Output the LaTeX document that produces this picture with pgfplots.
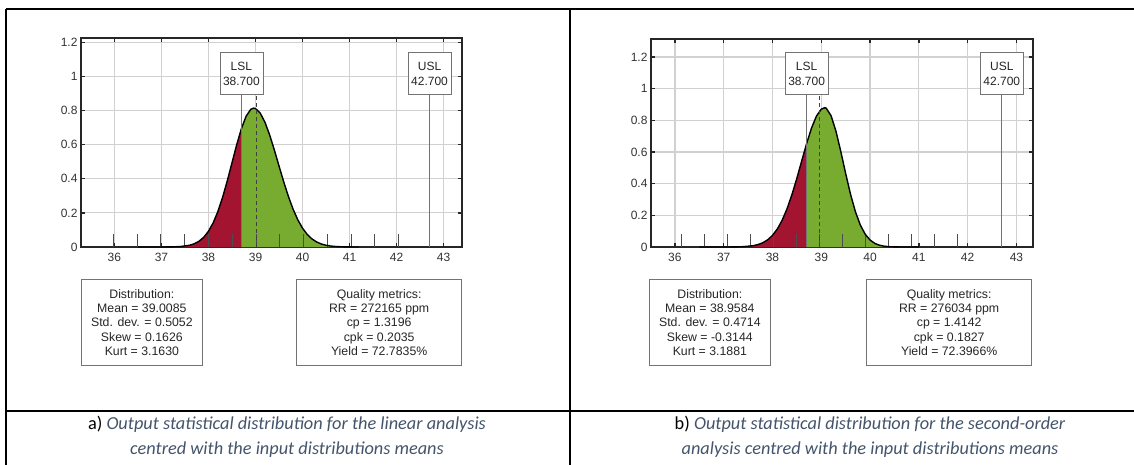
\documentclass[border=0pt]{standalone}
\usepackage{pgfplots}
\pgfplotsset{compat=1.18}
\usepackage{pgfplotstable}
\usepackage{fontspec}
\setmainfont{Liberation Sans}
\newfontfamily\capfont{Carlito}
\definecolor{mred}{RGB}{162,20,47}
\definecolor{mgreen}{RGB}{119,172,48}
\definecolor{axcol}{RGB}{38,38,38}
\definecolor{capblue}{RGB}{68,84,106}

\pgfplotstableread{
x y
36.5 0
37.0 0.0001
37.2 0.0005
37.4 0.0026
37.6 0.0103
37.7 0.0191
37.8 0.0339
37.9 0.0572
38.0 0.0922
38.1 0.1417
38.2 0.2079
38.3 0.2908
38.4 0.3880
38.5 0.4937
38.6 0.5993
38.7 0.6938
}\redA
\pgfplotstableread{
x y
38.7 0.6938
38.8 0.7662
38.9 0.8071
38.96 0.8140
39.0 0.8116
39.1 0.7850
39.2 0.7318
39.3 0.6574
39.4 0.5690
39.5 0.4747
39.6 0.3817
39.7 0.2957
39.8 0.2208
39.9 0.1589
40.0 0.1102
40.1 0.0736
40.2 0.0474
40.3 0.0294
40.4 0.0176
40.5 0.0101
40.6 0.0056
40.7 0.0030
40.8 0.0016
41.0 0.0004
41.2 0
}\greenA
\pgfplotstableread{
x y
36.5 0
37.0 0.0001
37.2 0.0004
37.4 0.0021
37.6 0.0081
37.7 0.0150
37.8 0.0266
37.9 0.0451
38.0 0.0734
38.1 0.1142
38.2 0.1703
38.3 0.2431
38.4 0.3322
38.5 0.4348
38.6 0.5449
38.7 0.6538
}\redB
\pgfplotstableread{
x y
38.7 0.6538
38.8 0.7513
38.9 0.8265
39.0 0.8707
39.07 0.8800
39.1 0.8773
39.2 0.8300
39.3 0.7327
39.4 0.6036
39.5 0.4639
39.6 0.3327
39.7 0.2226
39.8 0.1390
39.9 0.0810
40.0 0.0440
40.1 0.0223
40.2 0.0106
40.3 0.0047
40.4 0.0019
40.6 0.0003
40.8 0
41.0 0
}\greenB

\pgfplotsset{
  mstyle/.style={
    scale only axis,
    axis line style={axcol, line width=2pt},
    xtick={36,37,38,39,40,41,42,43},
    ytick={0,0.2,0.4,0.6,0.8,1,1.2},
    tick align=inside,
    major tick length=4pt,
    tick style={axcol, line width=1.3pt},
    grid=major,
    grid style={black!18, line width=1.2pt},
    ymin=0,
    ticklabel style={font=\fontsize{12}{14}\selectfont, text=black!80},
    xticklabel style={yshift=-3pt},
    /pgf/number format/assume math mode=true,
  },
}
\tikzset{
  lslbox/.style={draw=black!55, line width=0.7pt, fill=white, align=center,
    minimum width=43pt, minimum height=42pt, inner sep=1pt,
    font=\fontsize{12}{14.5}\selectfont, text=axcol, anchor=south},
  infobox/.style={draw=black!55, line width=0.7pt, minimum height=86pt,
    align=center, font=\fontsize{12.3}{14.3}\selectfont, text=axcol},
}

\begin{document}
\begin{tikzpicture}[x=1pt,y=1pt]
\useasboundingbox (0,0) rectangle (1134,-465);
% table borders
\draw[line width=2pt] (6,-9) -- (1140,-9);
\draw[line width=2pt] (6,-9) -- (6,-470);
\draw[line width=2pt] (570,-9) -- (570,-470);
\draw[line width=2pt] (6,-411) -- (1140,-411);

% ---------- panel a ----------
\begin{axis}[mstyle, at={(81pt,-247pt)}, anchor=south west,
  width=381pt, height=209pt, xmin=35.29, xmax=43.39, ymax=1.225]
\addplot[fill=mred, draw=none] table {\redA} \closedcycle;
\addplot[fill=mgreen, draw=none] table {\greenA} \closedcycle;
\addplot[ycomb, no marks, black!70, line width=0.8pt] coordinates {
 (35.977,0.077) (36.482,0.077) (36.988,0.077) (37.493,0.077) (37.998,0.077)
 (38.503,0.077) (39.009,0.077) (39.514,0.077) (40.019,0.077) (40.524,0.077)
 (41.030,0.077) (41.535,0.077) (42.040,0.077)};
\addplot[black, line width=1.4pt] table {\redA};
\addplot[black, line width=1.4pt] table {\greenA};
\addplot[black!75, line width=0.8pt, dash pattern=on 4pt off 3pt] coordinates {(39.0085,0) (39.0085,0.89)};
\addplot[black!55, line width=0.7pt] coordinates {(38.7,0) (38.7,0.89)};
\addplot[black!55, line width=0.7pt] coordinates {(42.7,0) (42.7,0.89)};
\node[lslbox] at (axis cs:38.7,0.89) {LSL\\38.700};
\node[lslbox] at (axis cs:42.7,0.89) {USL\\42.700};
\end{axis}

\node[infobox, minimum width=121pt, anchor=north west] at (81,-279)
  {Distribution:\\Mean = 39.0085\\Std. dev. = 0.5052\\Skew = 0.1626\\Kurt = 3.1630};
\node[infobox, minimum width=165pt, anchor=north east] at (462,-279)
  {Quality metrics:\\RR = 272165 ppm\\cp = 1.3196\\cpk = 0.2035\\Yield = 72.7835\%};

% ---------- panel b ----------
\begin{axis}[mstyle, at={(651pt,-247pt)}, anchor=south west,
  width=382pt, height=208pt, xmin=35.51, xmax=43.34, ymax=1.314]
\addplot[fill=mred, draw=none] table {\redB} \closedcycle;
\addplot[fill=mgreen, draw=none] table {\greenB} \closedcycle;
\addplot[ycomb, no marks, black!70, line width=0.8pt] coordinates {
 (36.130,0.083) (36.601,0.083) (37.073,0.083) (37.544,0.083) (38.016,0.083)
 (38.487,0.083) (38.958,0.083) (39.430,0.083) (39.901,0.083) (40.373,0.083)
 (40.844,0.083) (41.315,0.083) (41.787,0.083)};
\addplot[black, line width=1.4pt] table {\redB};
\addplot[black, line width=1.4pt] table {\greenB};
\addplot[black!75, line width=0.8pt, dash pattern=on 4pt off 3pt] coordinates {(38.9584,0) (38.9584,0.96)};
\addplot[black!55, line width=0.7pt] coordinates {(38.7,0) (38.7,0.96)};
\addplot[black!55, line width=0.7pt] coordinates {(42.7,0) (42.7,0.96)};
\node[lslbox] at (axis cs:38.7,0.96) {LSL\\38.700};
\node[lslbox] at (axis cs:42.7,0.96) {USL\\42.700};
\end{axis}

\node[infobox, minimum width=121pt, anchor=north west] at (649,-279)
  {Distribution:\\Mean = 38.9584\\Std. dev. = 0.4714\\Skew = -0.3144\\Kurt = 3.1881};
\node[infobox, minimum width=165pt, anchor=north east] at (1032,-279)
  {Quality metrics:\\RR = 276034 ppm\\cp = 1.4142\\cpk = 0.1827\\Yield = 72.3966\%};

% ---------- captions ----------
\node[align=center, font=\capfont\fontsize{18.3}{24.5}\selectfont] at (287,-437)
  {a) {\itshape\color{capblue}Output statistical distribution for the linear analysis}\\
   {\itshape\color{capblue}centred with the input distributions means}};
\node[align=center, font=\capfont\fontsize{18.3}{24.5}\selectfont] at (870,-437)
  {b) {\itshape\color{capblue}Output statistical distribution for the second-order}\\
   {\itshape\color{capblue}analysis centred with the input distributions means}};
\end{tikzpicture}
\end{document}
